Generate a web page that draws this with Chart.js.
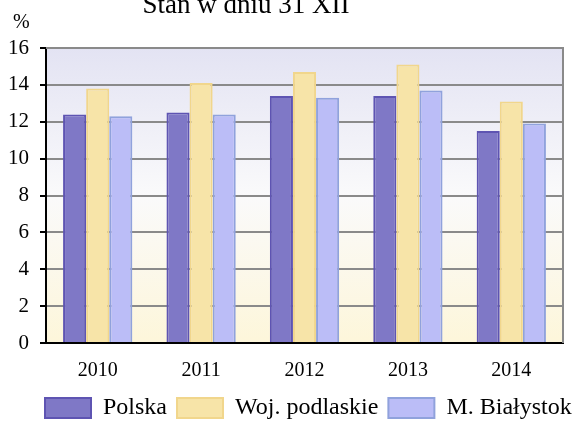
<!DOCTYPE html>
<html>
<head>
<meta charset="utf-8">
<script src="https://cdn.jsdelivr.net/npm/chart.js@4/dist/chart.umd.min.js"></script>
<style>
  html, body { margin: 0; padding: 0; background: #fff; }
  #wrap { width: 572px; height: 421px; }
</style>
</head>
<body>
<div id="wrap"><canvas id="chart"></canvas></div>
<script>
// dane z wykresu
const years = ['2010', '2011', '2012', '2013', '2014'];
const polska = [12.4, 12.5, 13.4, 13.4, 11.5];
const podlaskie = [13.8, 14.1, 14.7, 15.1, 13.1];
const bialystok = [12.3, 12.4, 13.3, 13.7, 11.9];
const yTicks = [0, 2, 4, 6, 8, 10, 12, 14, 16];

const serif = "'Liberation Serif', 'DejaVu Serif', serif";

// tlo z gradientem + ramka + napisy
const decor = {
  id: 'decor',
  afterLayout(chart) {
    // legenda troche nizej i bardziej w prawo, jak w oryginale
    const lg = chart.legend;
    lg.left += 35; lg.right += 35;
    lg.top += 9; lg.bottom += 9;
  },
  beforeDraw(chart) {
    const { ctx, chartArea: a } = chart;
    const g = ctx.createLinearGradient(0, a.top, 0, a.bottom);
    g.addColorStop(0, '#e3e3f3');
    g.addColorStop(0.5, '#fafafb');
    g.addColorStop(1, '#fdf6da');
    ctx.save();
    ctx.fillStyle = g;
    ctx.fillRect(a.left, a.top, a.right - a.left, a.bottom - a.top);
    ctx.restore();
  },
  afterDraw(chart) {
    const { ctx, chartArea: a } = chart;
    ctx.save();
    ctx.strokeStyle = '#8a8a8a';
    ctx.lineWidth = 2;
    ctx.beginPath();
    ctx.moveTo(a.left, a.top);
    ctx.lineTo(a.right, a.top);
    ctx.lineTo(a.right, a.bottom);
    ctx.stroke();
    ctx.fillStyle = '#000';
    ctx.font = '27px ' + serif;
    ctx.textAlign = 'center';
    ctx.textBaseline = 'alphabetic';
    ctx.fillText('Stan w dniu 31 XII', 246, 13);
    ctx.font = '20px ' + serif;
    ctx.textAlign = 'left';
    ctx.fillText('%', 13, 28);
    ctx.restore();
  }
};

new Chart(document.getElementById('chart'), {
  type: 'bar',
  data: {
    labels: years,
    datasets: [
      { label: 'Polska', data: polska, backgroundColor: '#7f78c6', borderColor: '#5e54b2', borderWidth: 2 },
      { label: 'Woj. podlaskie', data: podlaskie, backgroundColor: '#f7e4a8', borderColor: '#f1d68c', borderWidth: 2 },
      { label: 'M. Białystok', data: bialystok, backgroundColor: '#bbbdf7', borderColor: '#90a2dc', borderWidth: 2 }
    ]
  },
  options: {
    responsive: true,
    maintainAspectRatio: false,
    animation: false,
    layout: { padding: { top: 48, right: 9, left: 0, bottom: 0 } },
    datasets: { bar: { categoryPercentage: 0.67, barPercentage: 1 } },
    scales: {
      x: {
        afterFit(scale) { scale.height = 34; },
        grid: { display: false },
        border: { color: '#000', width: 2 },
        ticks: { color: '#000', font: { family: serif, size: 20 }, padding: 8 }
      },
      y: {
        min: 0,
        max: 16,
        afterFit(scale) { scale.width = 46; },
        afterBuildTicks(scale) { scale.ticks = yTicks.map(v => ({ value: v })); },
        grid: { color: '#8a8a8a', lineWidth: 2, tickColor: '#000', tickLength: 6 },
        border: { color: '#000', width: 2 },
        ticks: { color: '#000', font: { family: serif, size: 21 }, padding: 11 }
      }
    },
    plugins: {
      legend: {
        position: 'bottom',
        align: 'start',
        labels: {
          color: '#000',
          font: { family: serif, size: 24 },
          boxWidth: 46,
          boxHeight: 20,
          padding: 10
        }
      },
      tooltip: { enabled: false }
    }
  },
  plugins: [decor]
});
</script>
</body>
</html>
